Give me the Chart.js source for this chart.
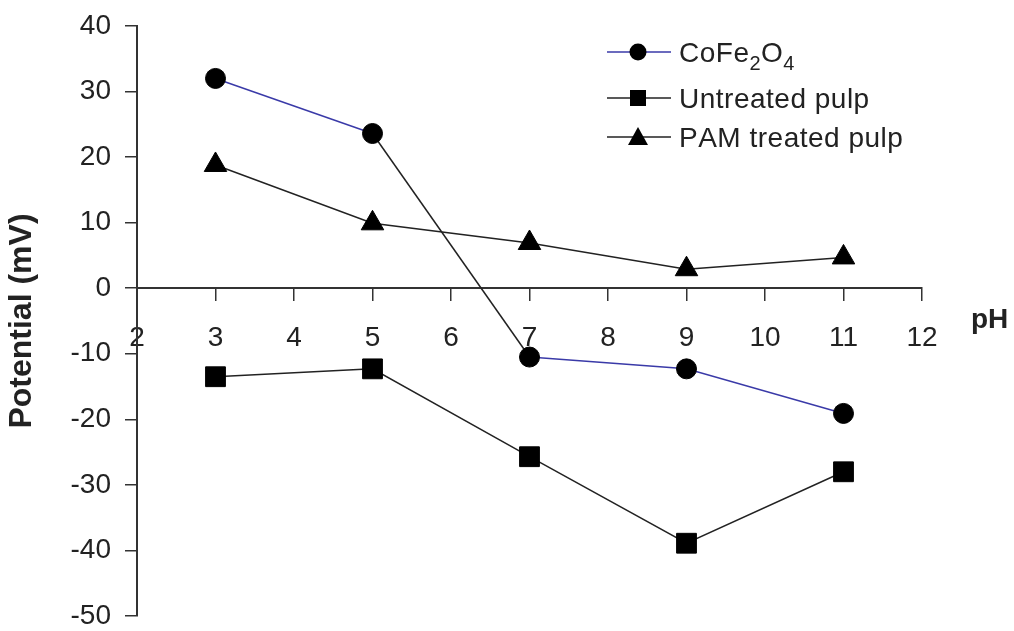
<!DOCTYPE html>
<html><head><meta charset="utf-8">
<script src="https://cdn.jsdelivr.net/npm/chart.js@4/dist/chart.umd.min.js"></script>
<style>html,body{margin:0;padding:0;background:#fff}#wrap{width:1014px;height:631px}</style>
</head><body><div id="wrap"><canvas id="c" width="1014" height="631"></canvas></div>
<script>
// ---- data ----
const phValues = [3, 5, 7, 9, 11];
const cofe2o4 = [32, 23.6, -10.5, -12.3, -19.1];
const untreatedPulp = [-13.5, -12.3, -25.7, -38.9, -28.0];
const pamTreatedPulp = [18.8, 9.9, 6.9, 2.9, 4.7];
const seriesNames = ['CoFe\u2082O\u2084', 'Untreated pulp', 'PAM treated pulp'];
const xRange = [2, 12];
const yRange = [-50, 40];
const xTitle = 'pH';
const yTitle = 'Potential (mV)';

const FONT = "'Liberation Sans', Arial, sans-serif";
const BLUE = '#3a3aa8';
const DARK = '#222222';

const toPts = (ys) => phValues.map((x, i) => ({x, y: ys[i]}));

const legendPlugin = {
  id: 'customLegend',
  afterDraw(chart) {
    const ctx = chart.ctx;
    const rows = [52, 98, 137];
    chart.data.datasets.forEach((ds, i) => {
      const y = rows[i];
      ctx.save();
      ctx.strokeStyle = ds.legendLineColor || ds.borderColor;
      ctx.lineWidth = 1.5;
      ctx.beginPath(); ctx.moveTo(607, y); ctx.lineTo(671, y); ctx.stroke();
      ctx.fillStyle = '#000';
      const mx = 638;
      ctx.beginPath();
      if (ds.pointStyle === 'circle') { ctx.arc(mx, y, 8.5, 0, Math.PI * 2); }
      else if (ds.pointStyle === 'rect') { ctx.rect(mx - 8, y - 8, 16, 16); }
      else { ctx.moveTo(mx, y - 10); ctx.lineTo(mx + 10, y + 8); ctx.lineTo(mx - 10, y + 8); ctx.closePath(); }
      ctx.fill();
      // text with subscripts
      let tx = 679;
      ctx.textBaseline = 'alphabetic';
      ctx.fillStyle = DARK;
      const subMap = {'\u2080':'0','\u2081':'1','\u2082':'2','\u2083':'3','\u2084':'4','\u2085':'5','\u2086':'6','\u2087':'7','\u2088':'8','\u2089':'9'};
      const base = y + 10;
      for (const ch of ds.label) {
        if (subMap[ch]) {
          ctx.font = '20px ' + FONT;
          ctx.fillText(subMap[ch], tx, base + 8);
          tx += ctx.measureText(subMap[ch]).width + 0.5;
        } else {
          ctx.font = '28px ' + FONT;
          ctx.fillText(ch, tx, base);
          tx += ctx.measureText(ch).width + 0.5;
        }
      }
      ctx.restore();
    });
    // x axis title to the right of the axis
    ctx.save();
    ctx.font = 'bold 28px ' + FONT;
    ctx.fillStyle = DARK;
    ctx.textBaseline = 'middle';
    ctx.textAlign = 'left';
    ctx.fillText(xTitle, 971, 320);
    ctx.restore();
  }
};

new Chart(document.getElementById('c'), {
  type: 'line',
  data: {
    datasets: [
      {
        label: seriesNames[0], data: toPts(cofe2o4),
        borderColor: BLUE, legendLineColor: BLUE, borderWidth: 1.5,
        segment: { borderColor: (c) => c.p0DataIndex === 1 ? DARK : BLUE },
        pointStyle: 'circle', pointRadius: 10, pointBackgroundColor: '#000', pointBorderColor: '#000', pointBorderWidth: 1
      },
      {
        label: seriesNames[1], data: toPts(untreatedPulp),
        borderColor: DARK, borderWidth: 1.5,
        pointStyle: 'rect', pointRadius: 14, pointBackgroundColor: '#000', pointBorderColor: '#000', pointBorderWidth: 1
      },
      {
        label: seriesNames[2], data: toPts(pamTreatedPulp),
        borderColor: DARK, borderWidth: 1.5,
        pointStyle: 'triangle', pointRadius: 13, pointBackgroundColor: '#000', pointBorderColor: '#000', pointBorderWidth: 1
      }
    ]
  },
  options: {
    responsive: false,
    animation: false,
    layout: { padding: { left: 0, right: 92, top: 26, bottom: 13 } },
    plugins: { legend: { display: false }, tooltip: { enabled: false } },
    scales: {
      x: {
        type: 'linear', min: xRange[0], max: xRange[1], position: { y: 0 },
        ticks: { stepSize: 1, padding: 21, color: DARK, font: { family: FONT, size: 28 } },
        grid: { drawOnChartArea: false, drawTicks: true, tickLength: 12, color: '#333', lineWidth: 1.5 },
        border: { display: true, color: '#333', width: 2 },
        afterFit: (s) => { s.height = 0; s.paddingLeft = 0; s.paddingRight = 0; }
      },
      y: {
        type: 'linear', min: yRange[0], max: yRange[1],
        ticks: { stepSize: 10, padding: 14, color: DARK, font: { family: FONT, size: 28 } },
        grid: { drawOnChartArea: false, drawTicks: true, tickLength: 12, color: '#333', lineWidth: 1.5 },
        border: { display: true, color: '#333', width: 2 },
        title: { display: true, text: yTitle, color: DARK, font: { family: FONT, size: 32, weight: 'bold' }, padding: { top: 3, bottom: 0 } },
        afterFit: (s) => { s.width = 137; s.paddingTop = 0; s.paddingBottom = 0; }
      }
    }
  },
  plugins: [legendPlugin]
});
</script></body></html>
